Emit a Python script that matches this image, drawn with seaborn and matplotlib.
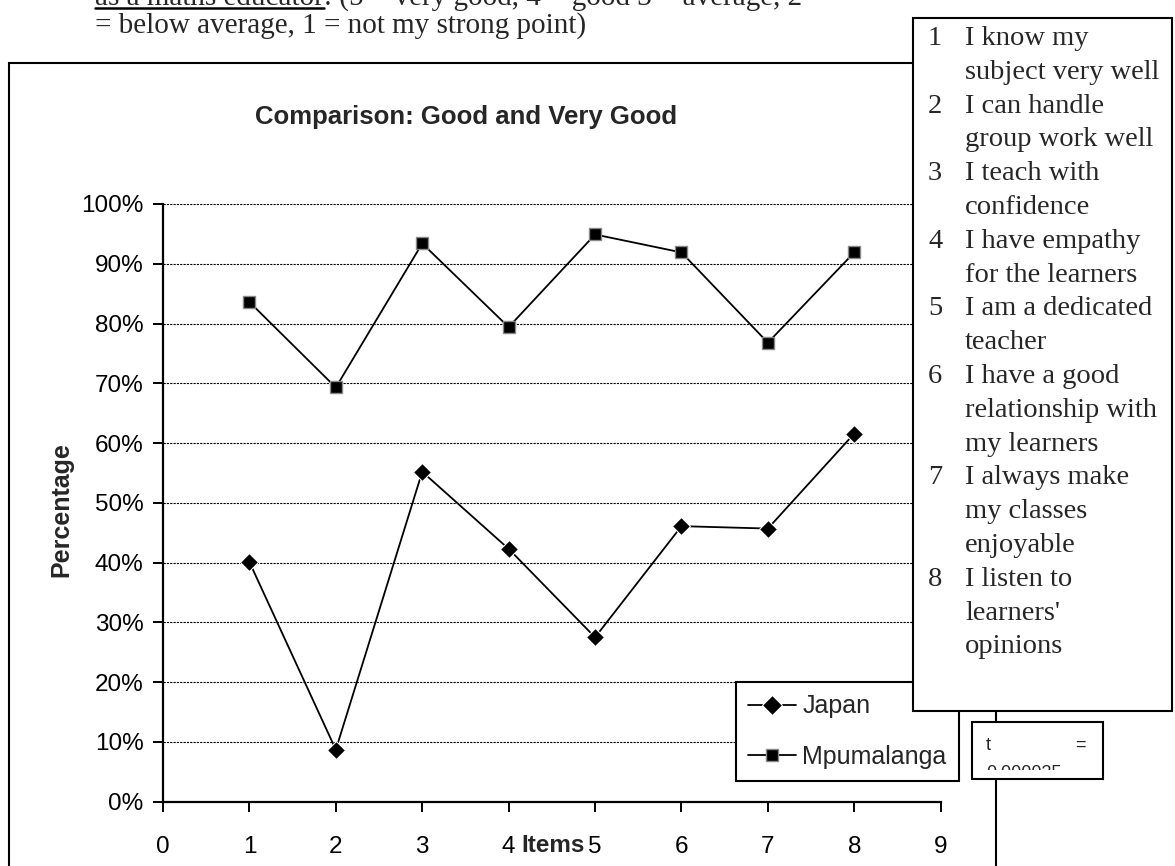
import numpy as np
import pandas as pd
import seaborn as sns
import matplotlib
matplotlib.use('Agg')
from matplotlib import pyplot as plt
from matplotlib.patches import Rectangle
from matplotlib.lines import Line2D
from matplotlib.transforms import Bbox, TransformedBbox
from matplotlib.ticker import FuncFormatter

# values (percent good + very good)
items = [1, 2, 3, 4, 5, 6, 7, 8]
japan = [40.1, 8.7, 55.2, 42.3, 27.5, 46.1, 45.7, 61.6]
mpumalanga = [83.6, 69.3, 93.4, 79.4, 94.9, 91.9, 76.8, 91.9]
x_ticks = list(range(0, 10))
y_ticks = list(range(0, 101, 10))

item_text = [
    ('1', ['I know my', 'subject very well']),
    ('2', ['I can handle', 'group work well']),
    ('3', ['I teach with', 'confidence']),
    ('4', ['I have empathy', 'for the learners']),
    ('5', ['I am a dedicated', 'teacher']),
    ('6', ['I have a good', 'relationship with', 'my learners']),
    ('7', ['I always make', 'my classes', 'enjoyable']),
    ('8', ['I listen to', "learners'", 'opinions']),
]

df = pd.DataFrame({'item': items * 2,
                   'pct': japan + mpumalanga,
                   'group': ['Japan'] * 8 + ['Mpumalanga'] * 8})

sns.set_theme(style='white')
plt.rcParams['font.family'] = ['Liberation Sans', 'DejaVu Sans']

W, H = 1175, 866
fx = lambda x: x / W
fy = lambda y: 1 - y / H

fig = plt.figure(figsize=(11.75, 8.66), dpi=100)
fig.patch.set_facecolor('white')

# outer chart frame
fig.patches.append(Rectangle((fx(9), fy(900)), fx(996) - fx(9), fy(63) - fy(900),
                             transform=fig.transFigure, fill=False, edgecolor='black',
                             lw=1.5, zorder=1))

ax = fig.add_axes([fx(163), fy(801.7), fx(940.7) - fx(163), fy(204) - fy(801.7)])
ax.set_facecolor('none')

sns.lineplot(data=df[df.group == 'Japan'], x='item', y='pct', marker='D', color='black',
             markersize=9, lw=1.3, label='Japan', ax=ax)
sns.lineplot(data=df[df.group == 'Mpumalanga'], x='item', y='pct', marker='s', color='black',
             markersize=8, markerfacecolor='black', markeredgecolor='#888888',
             markeredgewidth=1, lw=1.3, label='Mpumalanga', ax=ax)

ax.set_xlim(0, 9)
ax.set_ylim(0, 100)
ax.set_xticks(x_ticks)
ax.set_yticks(y_ticks)
ax.yaxis.set_major_formatter(FuncFormatter(lambda v, p: f'{int(v)}%'))
ax.yaxis.grid(True, linestyle=(0, (2, 1)), color='black', lw=0.8)
ax.xaxis.grid(False)
ax.set_axisbelow(True)
for s in ['top', 'right']:
    ax.spines[s].set_visible(False)
for s in ['left', 'bottom']:
    ax.spines[s].set_color('black')
    ax.spines[s].set_linewidth(1.6)
ax.tick_params(axis='both', colors='black', labelsize=17.5, direction='out',
               length=7, width=1.4, left=True, bottom=True)
ax.tick_params(axis='x', pad=18)
ax.tick_params(axis='y', pad=7)

ax.set_xlabel('Items', fontsize=17.5, fontweight='bold')
ax.xaxis.set_label_coords(0.5015, -(845 - 801.7) / 597.7)
ax.xaxis.label.set_va('center')
ax.set_ylabel('')
fig.text(fx(61), fy(510), 'Percentage', rotation=90, fontsize=18, fontweight='bold',
         ha='center', va='center')

fig.text(fx(466), fy(117), 'Comparison: Good and Very Good', fontsize=18.5,
         fontweight='bold', ha='center', va='center')

leg = ax.legend(loc='upper left', bbox_to_anchor=(fx(736), fy(682)),
                bbox_transform=fig.transFigure, frameon=True, fancybox=False,
                edgecolor='black', framealpha=1, borderaxespad=0, fontsize=18,
                handlelength=1.9, handletextpad=0.25, labelspacing=1.05, borderpad=0.5,
                markerscale=1.1)
leg.get_frame().set_linewidth(1.5)

# numbered item list box
fig.patches.append(Rectangle((fx(913), fy(711)), fx(1172) - fx(913), fy(18) - fy(711),
                             transform=fig.transFigure, facecolor='white', edgecolor='black',
                             lw=1.5, zorder=2))
serif = ['Liberation Serif', 'DejaVu Serif']
base = 45
step = 33.8
row = 0
for num, lines in item_text:
    fig.text(fx(928), fy(base + row * step), num, fontsize=20.5, family=serif,
             va='baseline', ha='left', zorder=3)
    for ln in lines:
        fig.text(fx(965), fy(base + row * step), ln, fontsize=20.5, family=serif,
                 va='baseline', ha='left', zorder=3)
        row += 1

# t value box
fig.patches.append(Rectangle((fx(972), fy(779)), fx(1103) - fx(972), fy(722) - fy(779),
                             transform=fig.transFigure, facecolor='white', edgecolor='black',
                             lw=1.5, zorder=2))
fig.text(fx(986), fy(750), 't', fontsize=13, va='baseline', ha='left', zorder=3)
fig.text(fx(1086), fy(750), '=', fontsize=13, va='baseline', ha='right', zorder=3)
t2 = fig.text(fx(986), fy(778), '0.000035', fontsize=13, va='baseline', ha='left', zorder=3)
t2.set_clip_box(TransformedBbox(Bbox.from_extents(fx(972), fy(770), fx(1103), fy(722)),
                                fig.transFigure))
t2.set_clip_on(True)

# cut-off text above the chart
renderer = fig.canvas.get_renderer()
u = fig.text(fx(95), fy(5), 'as a maths educator', fontsize=21, family=serif, va='baseline')
bb = u.get_window_extent(renderer=renderer)
x_end = bb.x1 / fig.bbox.width
fig.add_artist(Line2D([fx(95), x_end], [fy(8), fy(8)], transform=fig.transFigure,
                      color='black', lw=1.8))
fig.text(x_end, fy(5), ': (5 = very good, 4 = good 3 = average, 2', fontsize=21,
         family=serif, va='baseline')
fig.text(fx(95), fy(33), '= below average, 1 = not my strong point)', fontsize=21,
         family=serif, va='baseline')

fig.savefig('out.png', dpi=100, facecolor='white')
